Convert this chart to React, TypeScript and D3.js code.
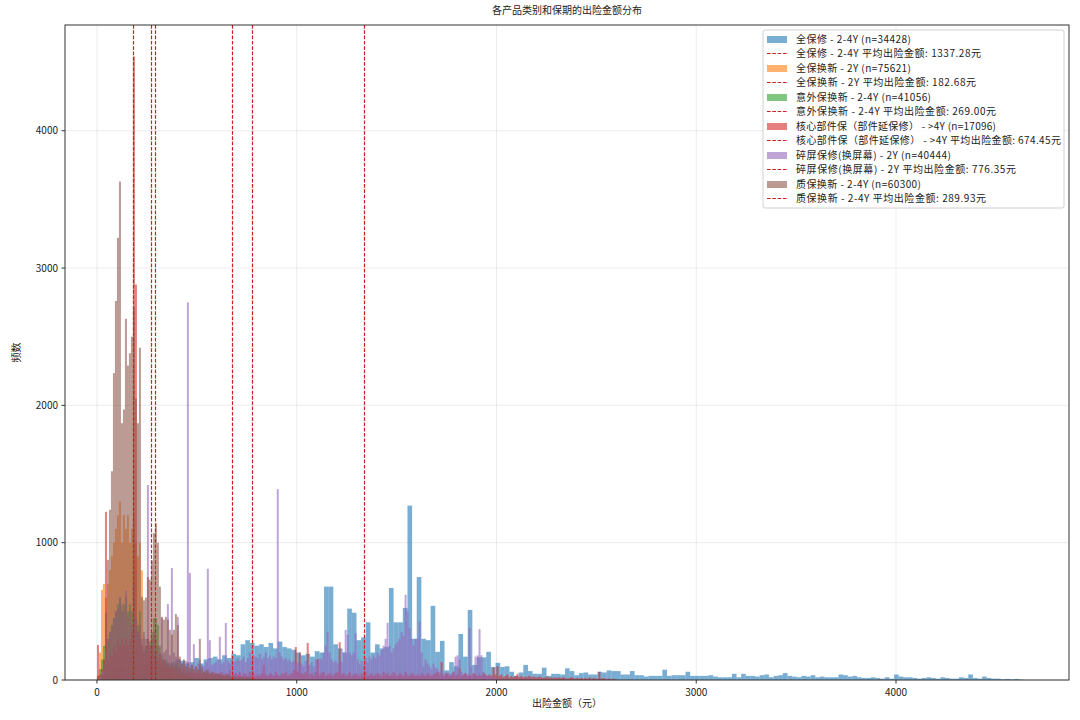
import * as d3 from 'd3';
import React from 'react';

const W = 1080;
const H = 720;
const M = { left: 65, right: 11, top: 25, bottom: 40 };
const FONT = '"Noto Sans CJK SC", "DejaVu Sans", sans-serif';

// 产品类别 / 保期
const seriesNames = [
    '全保修 - 2-4Y',
    '全保换新 - 2Y',
    '意外保换新 - 2-4Y',
    '核心部件保（部件延保修） - >4Y',
    '碎屏保修(换屏幕) - 2Y',
    '质保换新 - 2-4Y',
];
const seriesColors = ['#1f77b4', '#ff7f0e', '#2ca02c', '#d62728', '#9467bd', '#8c564b'];
const sampleSizes = [34428, 75621, 41056, 17096, 40444, 60300];
const meanValues = [1337.28, 182.68, 269.0, 674.45, 776.35, 289.93];
const binWidths = [23.2, 10, 10, 10, 10, 10];
const meanColor = '#cc2024';

const xTicks = [0, 1000, 2000, 3000, 4000];
const yTicks = [0, 1000, 2000, 3000, 4000];

// 频数 per bin
const quanBaoXiu = [
    10, 30, 60, 80, 90, 100, 90, 110, 120, 100,
    110, 120, 130, 110, 140, 120, 130, 150, 140, 120,
    130, 160, 120, 150, 160, 170, 150, 180, 160, 190,
    180, 260, 290, 270, 250, 260, 240, 270, 230, 280,
    240, 230, 220, 200, 180, 190, 170, 210, 200, 680,
    680, 260, 230, 200, 520, 490, 290, 310, 420, 200,
    260, 230, 240, 670, 420, 420, 525, 1270, 300, 750,
    300, 290, 540, 205, 285, 70, 130, 100, 335, 170,
    510, 110, 165, 165, 205, 95, 125, 95, 100, 60,
    30, 55, 110, 65, 45, 45, 90, 30, 45, 45,
    40, 85, 65, 35, 50, 55, 40, 40, 60, 55,
    70, 65, 65, 40, 40, 65, 35, 35, 25, 30,
    30, 30, 75, 30, 35, 35, 35, 60, 30, 30,
    30, 30, 35, 25, 20, 20, 20, 45, 20, 45,
    30, 30, 25, 35, 40, 20, 30, 35, 50, 30,
    25, 20, 30, 25, 35, 20, 25, 20, 20, 20,
    40, 35, 25, 30, 20, 15, 15, 20, 15, 10,
    20, 10, 40, 25, 20, 20, 15, 10, 15, 20,
    15, 10, 20, 15, 10, 10, 20, 15, 40, 15,
    10, 25, 15, 10, 10, 5, 8, 5, 8, 3,
];

const quanBaoHuanXin = [
    30, 200, 655, 700, 600, 700, 800, 900, 1000, 1100,
    1200, 1300, 1000, 1200, 1100, 1200, 1000, 1100, 1200, 1000,
    900, 1000, 800, 300, 250, 300, 250, 300, 350, 300,
    250, 200, 150, 130, 110, 100, 80, 80, 60, 60,
    50, 40, 35, 30, 25, 25, 20, 20, 15, 15,
    12, 10, 10, 8, 8, 5, 5, 4, 3, 3,
];

const yiWaiBao = [
    30, 80, 150, 250, 250, 300, 350, 400, 450, 500,
    550, 600, 500, 550, 600, 500, 550, 500, 600, 450,
    400, 500, 250, 220, 250, 300, 280, 350, 450, 450,
    400, 250, 180, 150, 150, 120, 100, 100, 100, 120,
    100, 80, 60, 40, 35, 30, 25, 20, 15, 12,
    10, 10, 8, 6, 5, 4, 3, 2, 2, 1,
];

const heXinBuJian = [
    255, 40, 80, 150, 1225, 150, 200, 180, 250, 200,
    300, 250, 300, 250, 300, 250, 300, 350, 4540, 2880,
    350, 300, 250, 200, 250, 300, 200, 250, 180, 200,
    150, 180, 120, 150, 100, 130, 90, 110, 80, 100,
    70, 90, 60, 80, 50, 70, 60, 80, 50, 60,
    50, 70, 40, 60, 50, 80, 40, 50, 60, 40,
    50, 40, 60, 30, 50, 40, 70, 30, 40, 50,
    40, 60, 30, 50, 40, 30, 60, 40, 50, 30,
    40, 30, 50, 110, 40, 30, 50, 40, 30, 60,
    40, 30, 50, 40, 60, 30, 40, 50, 70, 240,
    60, 200, 50, 40, 60, 270, 40, 50, 30, 60,
    150, 40, 50, 60, 30, 40, 50, 30, 40, 50,
    60, 275, 40, 50, 30, 40, 60, 30, 40, 50,
    40, 30, 50, 40, 60, 30, 40, 50, 30, 40,
    50, 40, 30, 60, 40, 50, 30, 40, 60, 40,
    30, 50, 40, 30, 60, 40, 30, 50, 40, 30,
    40, 30, 50, 40, 30, 50, 40, 30, 40, 50,
    60, 40, 130, 30, 40, 50, 30, 40, 60, 30,
    40, 85, 30, 40, 50, 30, 40, 30, 50, 40,
    30, 40, 30, 50, 40, 30, 40, 30, 90, 40,
    100, 30, 40, 20, 30, 40, 20, 30, 20, 30,
    45, 20, 30, 20, 25, 20, 30, 20, 25, 20,
    20, 25, 20, 15, 20, 25, 15, 20, 15, 20,
    15, 20, 15, 20, 15, 10, 15, 20, 15, 10,
    15, 10, 15, 10, 15, 10, 20, 10, 15, 10,
    10, 60, 10, 15, 10, 5, 10, 5, 10, 5,
];

const suiPingBaoXiu = [
    0, 20, 60, 120, 200, 300, 350, 400, 450, 500,
    520, 600, 550, 500, 650, 450, 500, 400, 700, 450,
    350, 400, 300, 350, 300, 1420, 250, 300, 350, 200,
    250, 200, 450, 200, 220, 553, 180, 815, 200, 170,
    460, 150, 120, 130, 140, 2750, 780, 110, 260, 100,
    120, 150, 110, 100, 130, 810, 290, 110, 120, 130,
    150, 315, 120, 130, 415, 140, 120, 150, 130, 140,
    160, 140, 150, 170, 130, 160, 200, 150, 180, 170,
    160, 190, 150, 170, 200, 160, 180, 150, 170, 160,
    1390, 200, 170, 150, 160, 140, 150, 130, 140, 120,
    130, 110, 120, 100, 140, 120, 110, 130, 100, 150,
    140, 160, 150, 200, 250, 352, 200, 150, 130, 140,
    120, 150, 130, 200, 365, 330, 200, 180, 200, 340,
    150, 120, 140, 110, 160, 130, 170, 150, 180, 160,
    200, 180, 220, 250, 300, 417, 250, 200, 230, 260,
    280, 300, 350, 320, 620, 500, 380, 300, 250, 300,
    300, 425, 200, 100, 150, 120, 100, 80, 120, 90,
    80, 60, 70, 50, 60, 40, 50, 40, 60, 170,
    180, 150, 60, 40, 50, 40, 380, 100, 40, 170,
    180, 370, 180, 60, 30, 20, 30, 20, 10, 15,
];

const zhiBaoHuanXin = [
    0, 0, 40, 140, 490, 875, 1240, 1520, 2235, 2760,
    3220, 3630, 1870, 1970, 2630, 2290, 2380, 2500, 2710, 2050,
    1870, 2420, 605, 580, 600, 750, 730, 870, 1070, 1140,
    1000, 680, 460, 440, 460, 440, 365, 330, 365, 480,
    400, 170, 120, 150, 100, 130, 90, 110, 80, 100,
    80, 300, 90, 60, 70, 60, 50, 60, 40, 50,
    40, 50, 30, 40, 30, 40, 30, 20, 30, 20,
    20, 30, 20, 20, 15, 20, 15, 10, 15, 10,
    10, 8, 10, 6, 8, 5, 6, 4, 5, 3,
    4, 3, 2, 3, 2, 2, 1, 2, 1, 1,
];

const seriesBins = [quanBaoXiu, quanBaoHuanXin, yiWaiBao, heXinBuJian, suiPingBaoXiu, zhiBaoHuanXin];

// width of a SimHei-style label: full-width glyphs 1em, the rest half
const labelWidth = (s: string, size: number) =>
    Array.from(s).reduce((w, ch) => w + (ch.charCodeAt(0) > 0x2e80 ? size : size / 2), 0);

export default function App() {
    const x = d3.scaleLinear().domain([-160, 4866]).range([M.left, W - M.right]);
    const y = d3.scaleLinear().domain([0, 4770]).range([H - M.bottom, M.top]);
    const plotW = W - M.left - M.right;
    const plotH = H - M.top - M.bottom;
    const midX = M.left + plotW / 2;

    // legend rows: series patch then its mean line
    const legendRows = seriesNames.flatMap((name, i) => [
        { kind: 'patch', color: seriesColors[i], label: `${name} (n=${sampleSizes[i]})` },
        { kind: 'line', color: meanColor, label: `${name} 平均出险金额: ${meanValues[i].toFixed(2)}元` },
    ]);
    const legX = 763;
    const legY = 30;
    const rowH = 14.48;

    return (
        <div>
            <style>{`body { margin: 0; }`}</style>
            <svg width={W} height={H} style={{ display: 'block', background: '#fff' }} fontFamily={FONT}>
                <defs>
                    <clipPath id="plot-clip">
                        <rect x={M.left} y={M.top} width={plotW} height={plotH} />
                    </clipPath>
                </defs>

                {/* grid */}
                <g stroke="#b0b0b0" strokeOpacity={0.3} strokeWidth={0.8}>
                    {xTicks.map(t => (
                        <line key={'gx' + t} x1={x(t)} x2={x(t)} y1={M.top} y2={H - M.bottom} />
                    ))}
                    {yTicks.map(t => (
                        <line key={'gy' + t} x1={M.left} x2={W - M.right} y1={y(t)} y2={y(t)} />
                    ))}
                </g>

                {/* histograms */}
                <g clipPath="url(#plot-clip)">
                    {seriesBins.map((bins, s) => (
                        <g key={'s' + s} fill={seriesColors[s]} fillOpacity={0.6}>
                            {bins.map((c, i) => c > 0 ? (
                                <rect
                                    key={i}
                                    x={x(i * binWidths[s])}
                                    y={y(c)}
                                    width={x((i + 1) * binWidths[s]) - x(i * binWidths[s])}
                                    height={y(0) - y(c)}
                                />
                            ) : null)}
                        </g>
                    ))}

                    {/* mean lines */}
                    {meanValues.map((m, i) => {
                        const mx = Math.round(x(m)) + 0.5;
                        return (
                            <line
                                key={'m' + i}
                                x1={mx} x2={mx} y1={M.top} y2={H - M.bottom}
                                stroke={meanColor} strokeWidth={1.2} strokeDasharray="3.7,1.6"
                            />
                        );
                    })}
                </g>

                {/* frame */}
                <rect x={M.left} y={M.top} width={plotW} height={plotH} fill="none" stroke="#333" strokeWidth={1} />

                {/* x axis */}
                {xTicks.map(t => (
                    <g key={'xt' + t} transform={`translate(${x(t)},${H - M.bottom})`}>
                        <line y2={3.5} stroke="#333" />
                        <text y={16} textAnchor="middle" fontSize={10} fill="#222">{t}</text>
                    </g>
                ))}
                {/* y axis */}
                {yTicks.map(t => (
                    <g key={'yt' + t} transform={`translate(${M.left},${y(t)})`}>
                        <line x2={-3.5} stroke="#333" />
                        <text x={-7} dy="0.35em" textAnchor="end" fontSize={10} fill="#222">{t}</text>
                    </g>
                ))}

                <text x={midX} y={14} textAnchor="middle" fontSize={10} fill="#222">各产品类别和保期的出险金额分布</text>
                <text x={midX} y={707} textAnchor="middle" fontSize={10} fill="#222">出险金额（元）</text>
                <text transform={`translate(20,${M.top + plotH / 2}) rotate(-90)`} textAnchor="middle" fontSize={10} fill="#222">频数</text>

                {/* legend */}
                <g>
                    <rect x={legX} y={legY} width={301} height={178} rx={2} fill="#fff" fillOpacity={0.8} stroke="#d0d0d0" />
                    {legendRows.map((r, i) => {
                        const cy = Math.round(legY + 9 + i * rowH) + 0.5;
                        return (
                            <g key={'lg' + i}>
                                {r.kind === 'patch' ? (
                                    <rect x={legX + 4} y={cy - 3.5} width={20} height={7} fill={r.color} fillOpacity={0.6} />
                                ) : (
                                    <line x1={legX + 4} x2={legX + 24} y1={cy} y2={cy} stroke={r.color} strokeWidth={1.2} strokeDasharray="3.7,1.6" />
                                )}
                                <text
                                    x={legX + 33} y={cy} dy="0.35em" fontSize={10} fill="#222"
                                    textLength={labelWidth(r.label, 10)} lengthAdjust="spacing"
                                >{r.label}</text>
                            </g>
                        );
                    })}
                </g>
            </svg>
        </div>
    );
}
